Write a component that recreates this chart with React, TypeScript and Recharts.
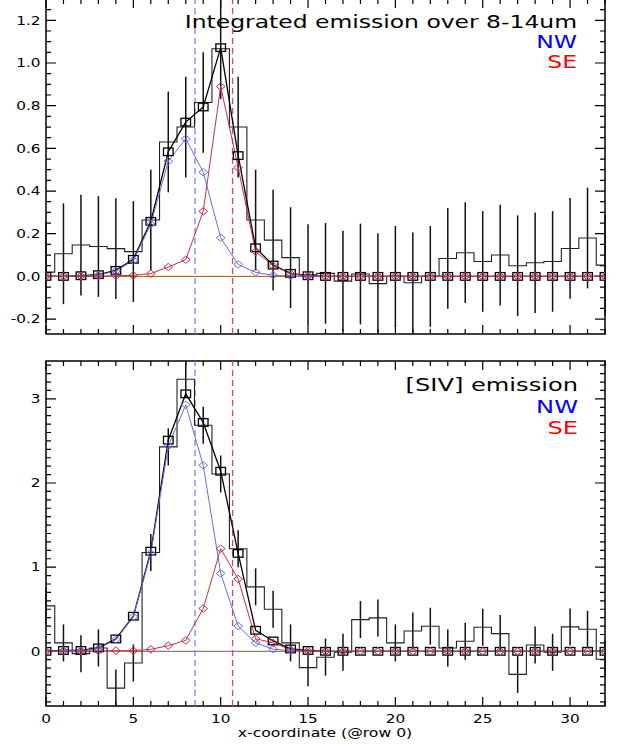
import React from 'react';
import { ComposedChart, Line, XAxis, YAxis, ErrorBar, ReferenceLine, ReferenceArea } from 'recharts';

// Pixel column positions along the slit (x-coordinate @ row 0)
const xPos = [0, 1, 2, 3, 4, 5, 6, 7, 8, 9, 10, 11, 12, 13, 14, 15, 16, 17, 18, 19, 20, 21, 22, 23, 24, 25, 26, 27, 28, 29, 30, 31, 32];

// Integrated emission over 8-14um: measured profile, fitted total and the two components
const broadFlux = [0.02, 0.106, 0.147, 0.14, 0.13, 0.116, 0.264, 0.63, 0.70, 0.815, 1.067, 0.70, 0.264, 0.17, 0.088, 0.008, 0.014, -0.022, 0.011, -0.034, 0.0, -0.03, 0.0, 0.084, 0.111, 0.07, 0.10, 0.05, 0.064, 0.07, 0.131, 0.18, 0.053];
const broadTotal = [0, 0, 0.003, 0.008, 0.028, 0.08, 0.258, 0.584, 0.723, 0.794, 1.072, 0.566, 0.134, 0.053, 0.014, 0.003, 0, 0, 0, 0, 0, 0, 0, 0, 0, 0, 0, 0, 0, 0, 0, 0, 0];
const broadNW = [0, 0, 0.002, 0.006, 0.025, 0.075, 0.245, 0.54, 0.645, 0.488, 0.181, 0.056, 0.019, 0.005, 0.002, 0, 0, 0, 0, 0, 0, 0, 0, 0, 0, 0, 0, 0, 0, 0, 0, 0, 0];
const broadSE = [0, 0, 0.001, 0.002, 0.003, 0.005, 0.013, 0.044, 0.078, 0.305, 0.89, 0.51, 0.116, 0.05, 0.012, 0.003, 0, 0, 0, 0, 0, 0, 0, 0, 0, 0, 0, 0, 0, 0, 0, 0, 0];
const broadSigma = 0.236;

// [SIV] line emission
const sivFlux = [0.54, 0.1, -0.028, 0.04, -0.437, -0.139, 1.175, 2.43, 3.234, 2.687, 2.107, 1.218, 0.766, 0.5, 0.1, -0.194, -0.07, -0.01, 0.377, 0.397, 0.1, 0.242, 0.298, 0.04, 0.119, 0.286, 0.21, -0.274, 0.075, -0.012, 0.29, 0.262, -0.095];
const sivTotal = [0, 0.01, 0.01, 0.04, 0.147, 0.417, 1.19, 2.51, 3.06, 2.72, 2.14, 1.163, 0.25, 0.123, 0.028, 0.01, 0, 0, 0, 0, 0, 0, 0, 0, 0, 0, 0, 0, 0, 0, 0, 0, 0];
const sivNW = [0, 0.008, 0.008, 0.035, 0.14, 0.41, 1.165, 2.44, 2.93, 2.21, 0.925, 0.30, 0.10, 0.025, 0.008, 0.003, 0, 0, 0, 0, 0, 0, 0, 0, 0, 0, 0, 0, 0, 0, 0, 0, 0];
const sivSE = [0, 0.002, 0.002, 0.005, 0.007, 0.007, 0.024, 0.067, 0.13, 0.508, 1.22, 0.86, 0.15, 0.1, 0.02, 0.005, 0, 0, 0, 0, 0, 0, 0, 0, 0, 0, 0, 0, 0, 0, 0, 0, 0];
const sivSigma = 0.22;

// Peak positions of the two sources
const nwPeak = 8.53;
const sePeak = 10.68;

// Axis ticks
const xMajorTicks = [0, 5, 10, 15, 20, 25, 30];
const broadMajorTicks = [-0.2, 0, 0.2, 0.4, 0.6, 0.8, 1.0, 1.2];
const sivMajorTicks = [0, 1, 2, 3];

const steps = (start: number, count: number, step: number) =>
  Array.from({ length: count }, (_, i) => +(start + i * step).toFixed(3));
const xMinorTicks = steps(0, 33, 1);
const broadMinorTicks = steps(-0.25, 32, 0.05);
const sivMinorTicks = steps(-0.6, 41, 0.1);

const FONT = 'DejaVu Sans';
const SX = 1.33;

const buildRows = (flux: number[], total: number[], nw: number[], se: number[], sigma: number) =>
  xPos.map((x, i) => ({ x, flux: flux[i], err: sigma, total: total[i], nw: nw[i], se: se[i] }));

const broadRows = buildRows(broadFlux, broadTotal, broadNW, broadSE, broadSigma);
const sivRows = buildRows(sivFlux, sivTotal, sivNW, sivSE, sivSigma);

const isMajor = (v: number, majors: number[]) => majors.some((m) => Math.abs(m - v) < 1e-6);

// Tick labels (outside the frame)
const XLabel = (props: any) => {
  const { x, y, payload, showLabel } = props;
  const v = payload.value;
  if (!showLabel || !isMajor(v, xMajorTicks)) return <g />;
  return (
    <text transform={`translate(${x},${y + 17}) scale(${SX},1)`} textAnchor="middle" fontFamily={FONT} fontSize={11.5} fill="#000">
      {v}
    </text>
  );
};

const YLabel = (props: any) => {
  const { x, y, payload, majors, fmt } = props;
  const v = payload.value;
  if (!isMajor(v, majors)) return <g />;
  return (
    <text transform={`translate(${x - 5.5},${y + 4.2}) scale(${SX},1)`} textAnchor="end" fontFamily={FONT} fontSize={11.5} fill="#000">
      {fmt(v)}
    </text>
  );
};

// Inward tick marks on both sides of the frame
const xTickShape = (v: number) => (p: any) => {
  const top = Math.min(p.y1, p.y2);
  const bottom = Math.max(p.y1, p.y2);
  const len = isMajor(v, xMajorTicks) ? 9 : 5;
  return <path d={`M${p.x1},${bottom}V${bottom - len}M${p.x1},${top}V${top + len}`} stroke="#000" strokeWidth={1.2} fill="none" />;
};

const yTickShape = (v: number, majors: number[]) => (p: any) => {
  const left = Math.min(p.x1, p.x2);
  const right = Math.max(p.x1, p.x2);
  const len = isMajor(v, majors) ? 10 : 5;
  return <path d={`M${left},${p.y1}H${left + len}M${right},${p.y1}H${right - len}`} stroke="#000" strokeWidth={1.2} fill="none" />;
};

const squareDot = (p: any) => (
  <rect key={`sq-${p.index}`} x={p.cx - 4.8} y={p.cy - 3.8} width={9.6} height={7.6} fill="none" stroke="#000" strokeWidth={1.3} />
);

const diamondDot = (color: string) => (p: any) => (
  <polygon
    key={`dm-${p.index}`}
    points={`${p.cx},${p.cy - 3.7} ${p.cx + 4.4},${p.cy} ${p.cx},${p.cy + 3.7} ${p.cx - 4.4},${p.cy}`}
    fill="none"
    stroke={color}
    strokeWidth={1}
  />
);

const NW_COLOR = '#6470e2';
const SE_COLOR = '#c4304e';

type PanelProps = {
  rows: any[];
  height: number;
  margin: { top: number; right: number; bottom: number; left: number };
  yDomain: [number, number];
  yTicks: number[];
  yMajors: number[];
  fmt: (v: number) => string;
  showXLabels: boolean;
};

function Panel({ rows, height, margin, yDomain, yTicks, yMajors, fmt, showXLabels }: PanelProps) {
  return (
    <ComposedChart width={624} height={height} data={rows} margin={margin}>
      <XAxis
        dataKey="x"
        type="number"
        domain={[0, 32]}
        ticks={xMinorTicks}
        interval={0}
        allowDataOverflow
        height={showXLabels ? 38 : 0}
        tickSize={0}
        tickMargin={0}
        tickLine={false}
        axisLine={false}
        tick={(p: any) => <XLabel {...p} showLabel={showXLabels} />}
      />
      <YAxis
        type="number"
        domain={yDomain}
        ticks={yTicks}
        interval={0}
        allowDataOverflow
        width={46}
        tickSize={0}
        tickMargin={0}
        tickLine={false}
        axisLine={false}
        tick={(p: any) => <YLabel {...p} majors={yMajors} fmt={fmt} />}
      />
      {xMinorTicks.map((v) => (
        <ReferenceLine key={`xt-${v}`} x={v} stroke="#000" shape={xTickShape(v)} />
      ))}
      {yTicks.map((v) => (
        <ReferenceLine key={`yt-${v}`} y={v} stroke="#000" shape={yTickShape(v, yMajors)} />
      ))}
      <ReferenceLine y={0} stroke="#8c5a2a" strokeWidth={1} />
      <ReferenceLine x={nwPeak} stroke="#7c84e4" strokeWidth={1.3} strokeDasharray="6 4" />
      <ReferenceLine x={sePeak} stroke="#d24a68" strokeWidth={1.3} strokeDasharray="6 4" />
      <Line dataKey="flux" type="step" stroke="#222" strokeWidth={1.1} dot={false} activeDot={false} isAnimationActive={false}>
        <ErrorBar dataKey="err" direction="y" width={0} stroke="#111" strokeWidth={1.5} isAnimationActive={false} />
      </Line>
      <Line dataKey="total" type="linear" stroke="#000" strokeWidth={1.3} dot={squareDot} activeDot={false} isAnimationActive={false} />
      <Line dataKey="nw" type="linear" stroke={NW_COLOR} strokeWidth={1} dot={diamondDot(NW_COLOR)} activeDot={false} isAnimationActive={false} />
      <Line dataKey="se" type="linear" stroke={SE_COLOR} strokeWidth={1} dot={diamondDot(SE_COLOR)} activeDot={false} isAnimationActive={false} />
      <ReferenceArea x1={0} x2={32} y1={yDomain[0]} y2={yDomain[1]} fill="none" fillOpacity={0} stroke="#000" strokeWidth={1.5} ifOverflow="visible" />
    </ComposedChart>
  );
}

const Caption = ({ x, y, size, color, anchor = 'end', sx = 1.38, children }: any) => (
  <text transform={`translate(${x},${y}) scale(${sx},1)`} textAnchor={anchor} fontFamily={FONT} fontSize={size} fill={color}>
    {children}
  </text>
);

export default function App() {
  return (
    <div style={{ position: 'absolute', left: 0, top: 0, width: 624, height: 744, background: '#fff', overflow: 'hidden' }}>
      <div style={{ position: 'absolute', left: 0, top: -1 }}>
        <Panel
          rows={broadRows}
          height={341}
          margin={{ top: 0, right: 19, bottom: 6, left: 0 }}
          yDomain={[-0.27, 1.3]}
          yTicks={broadMinorTicks}
          yMajors={broadMajorTicks}
          fmt={(v) => v.toFixed(1)}
          showXLabels={false}
        />
      </div>
      <div style={{ position: 'absolute', left: 0, top: 340 }}>
        <Panel
          rows={sivRows}
          height={404}
          margin={{ top: 21, right: 19, bottom: 0, left: 0 }}
          yDomain={[-0.65, 3.45]}
          yTicks={sivMinorTicks}
          yMajors={sivMajorTicks}
          fmt={(v) => String(Math.round(v))}
          showXLabels={true}
        />
      </div>
      <svg width={624} height={744} style={{ position: 'absolute', left: 0, top: 0, pointerEvents: 'none' }}>
        <Caption x={577} y={27.5} size={17} color="#000">Integrated emission over 8-14um</Caption>
        <Caption x={577} y={47.5} size={17} color="#0000ff">NW</Caption>
        <Caption x={577} y={67.5} size={17} color="#ff0000">SE</Caption>
        <Caption x={578} y={391} size={17.5} color="#000">[SIV] emission</Caption>
        <Caption x={578} y={412.5} size={17.5} color="#0000ff">NW</Caption>
        <Caption x={578} y={433.5} size={17.5} color="#ff0000">SE</Caption>
        <Caption x={325} y={737} size={11.5} color="#000" anchor="middle" sx={1.36}>x-coordinate (@row 0)</Caption>
      </svg>
    </div>
  );
}
